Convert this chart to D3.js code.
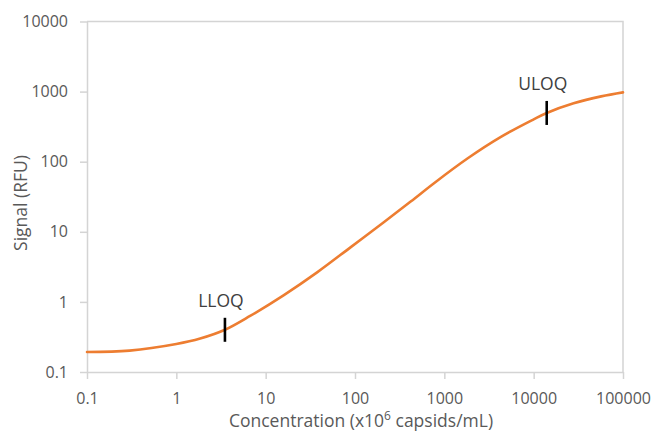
<!DOCTYPE html>
<html>
<head>
<meta charset="utf-8">
<script src="https://cdn.jsdelivr.net/npm/d3@7"></script>
<style>
  html, body { margin: 0; padding: 0; background: #fff; }
  svg { display: block; }
  text { font-family: "Open Sans", sans-serif; }
</style>
</head>
<body>
<svg id="chart" width="657" height="433"></svg>
<script>
// ---- data ----
const concentration = [0.1, 0.3, 1, 1.85, 3.5, 6.7, 16, 38, 89, 210, 420, 760, 1830, 4300, 10000, 14000, 28000, 57000, 100000];
const signal        = [0.193, 0.202, 0.251, 0.30, 0.40, 0.63, 1.25, 2.66, 6.0, 13.7, 27, 49, 112, 226, 402, 496, 680, 855, 975];

const xTicks = [0.1, 1, 10, 100, 1000, 10000, 100000];
const xTickLabels = ["0.1", "1", "10", "100", "1000", "10000", "100000"];
const yTicks = [0.1, 1, 10, 100, 1000, 10000];
const yTickLabels = ["0.1", "1", "10", "100", "1000", "10000"];

const limitNames = ["LLOQ", "ULOQ"];
const limitConc = [3.5, 14000];
const limitSignal = [0.40, 496];

const xTitle = "Concentration (x10";
const xTitleSup = "6";
const xTitleEnd = " capsids/mL)";
const yTitle = "Signal (RFU)";

// ---- layout ----
const W = 657, H = 433;
const m = { left: 87, top: 21.5, right: 34, bottom: 61 };
const svg = d3.select("#chart");

const x = d3.scaleLog().domain([0.1, 100000]).range([m.left, W - m.right]);
const y = d3.scaleLog().domain([0.1, 10000]).range([H - m.bottom, m.top]);

const axisColor = "#d4d4d4";
const textColor = "#595959";

// plot border (top & right)
svg.append("path")
  .attr("d", `M${x.range()[0]},${y.range()[1]}H${x.range()[1]}V${y.range()[0]}`)
  .attr("fill", "none").attr("stroke", axisColor).attr("stroke-width", 1.5);

// axes
const xAxis = svg.append("g")
  .attr("transform", `translate(0,${y.range()[0]})`)
  .call(d3.axisBottom(x).tickValues(xTicks).tickFormat((d, i) => xTickLabels[i]).tickSize(7).tickSizeOuter(0).tickPadding(14));
const yAxis = svg.append("g")
  .attr("transform", `translate(${x.range()[0]},0)`)
  .call(d3.axisLeft(y).tickValues(yTicks).tickFormat((d, i) => yTickLabels[i]).tickSize(7).tickSizeOuter(0).tickPadding(12));

[xAxis, yAxis].forEach(g => {
  g.select(".domain").attr("stroke", axisColor).attr("stroke-width", 1.5);
  g.selectAll(".tick line").attr("stroke", axisColor).attr("stroke-width", 1.5);
  g.selectAll(".tick text").attr("fill", textColor).attr("font-size", 16)
    .attr("font-family", "'Open Sans', sans-serif");
});

// curve
const pts = concentration.map((c, i) => [c, signal[i]]);
const line = d3.line().x(d => x(d[0])).y(d => y(d[1])).curve(d3.curveCatmullRom.alpha(0.5));
svg.append("path")
  .datum(pts)
  .attr("d", line)
  .attr("fill", "none")
  .attr("stroke", "#ed7d31")
  .attr("stroke-width", 2.6)
  .attr("stroke-linecap", "round");

// limit markers
limitNames.forEach((name, i) => {
  const cx = x(limitConc[i]), cy = y(limitSignal[i]);
  svg.append("line")
    .attr("x1", cx).attr("x2", cx)
    .attr("y1", cy - 12).attr("y2", cy + 12)
    .attr("stroke", "#000").attr("stroke-width", 2.6);
  svg.append("text")
    .attr("x", cx - 4).attr("y", cy - 23)
    .attr("text-anchor", "middle")
    .attr("font-size", 17.5)
    .attr("fill", "#404040")
    .text(name);
});

// axis titles
const xt = svg.append("text")
  .attr("x", 361)
  .attr("y", 427)
  .attr("text-anchor", "middle")
  .attr("font-size", 17.5)
  .attr("fill", textColor);
xt.append("tspan").text(xTitle);
xt.append("tspan").attr("dy", -7).attr("font-size", 12).text(xTitleSup);
xt.append("tspan").attr("dy", 7).text(xTitleEnd);

svg.append("text")
  .attr("transform", `translate(27,203) rotate(-90)`)
  .attr("text-anchor", "middle")
  .attr("font-size", 17.5)
  .attr("fill", textColor)
  .text(yTitle);
</script>
</body>
</html>
